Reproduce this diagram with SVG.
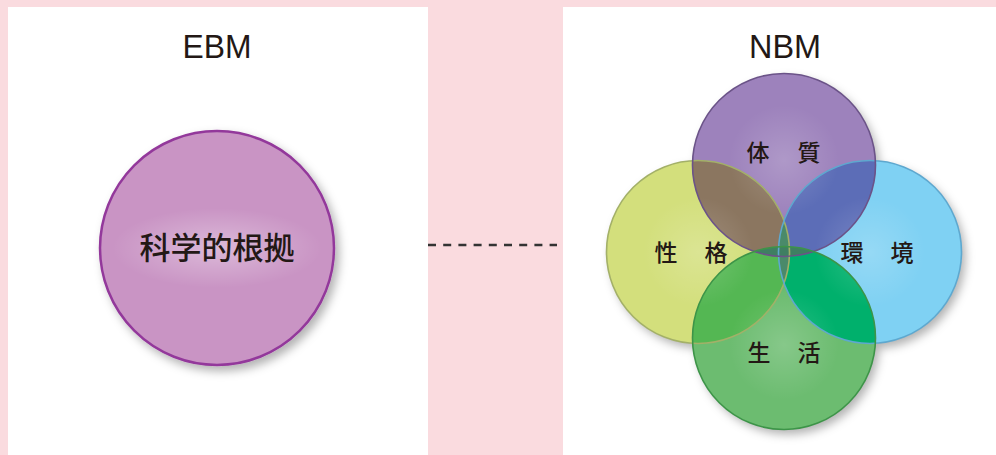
<svg xmlns="http://www.w3.org/2000/svg" width="996" height="455" viewBox="0 0 996 455">
<style>
.title{font-family:"Liberation Sans",Arial,sans-serif;font-size:34px;fill:#231815;text-anchor:middle}
.jp{font-family:"Noto Sans CJK JP","Noto Sans CJK SC",sans-serif;fill:#231815;text-anchor:middle;font-weight:500}
.lbl{font-size:23px}
.circ{stroke-width:1.6}
</style>
<defs>
<filter id="sh" x="-20%" y="-20%" width="150%" height="150%">
<feDropShadow dx="4" dy="5" stdDeviation="5" flood-color="#000" flood-opacity="0.3"/>
</filter>
<radialGradient id="glow" cx="0.5" cy="0.5" r="0.5">
<stop offset="0" stop-color="#fff" stop-opacity="0.35"/>
<stop offset="1" stop-color="#fff" stop-opacity="0"/>
</radialGradient>
<radialGradient id="glow2" cx="0.5" cy="0.5" r="0.5">
<stop offset="0" stop-color="#fff" stop-opacity="0.18"/>
<stop offset="1" stop-color="#fff" stop-opacity="0"/>
</radialGradient>
<clipPath id="cT"><circle cx="784" cy="165" r="91.5"/></clipPath>
<clipPath id="cL"><circle cx="698" cy="252" r="91.5"/></clipPath>
<clipPath id="cR"><circle cx="870" cy="252" r="91.5"/></clipPath>
<clipPath id="cB"><circle cx="784" cy="338" r="91.5"/></clipPath>
</defs>
<rect x="0" y="0" width="996" height="455" fill="#fadbdf"/>
<rect x="8" y="7" width="420" height="448" fill="#fff"/>
<rect x="563" y="7" width="433" height="448" fill="#fff"/>

<g id="connectors">
<line x1="428" y1="245" x2="557" y2="245" stroke="#333" stroke-width="2.4" stroke-dasharray="8 7.2"/>
</g>

<g id="ebm-title"><text class="title" x="217" y="58" textLength="69" lengthAdjust="spacingAndGlyphs">EBM</text></g>
<g id="node-ebm">
<circle cx="217" cy="248" r="117" fill="#c994c4" stroke="#93399b" stroke-width="2.5" filter="url(#sh)"/>
<ellipse cx="217" cy="248" rx="105" ry="40" fill="url(#glow)"/>
<text class="jp" x="217" y="259" font-size="31">科学的根拠</text>
</g>

<g id="nbm-title"><text class="title" x="785" y="58" textLength="72" lengthAdjust="spacingAndGlyphs">NBM</text></g>

<g id="nbm-circles">
<g filter="url(#sh)">
<circle cx="698" cy="252" r="91.5" fill="#d3df7c"/>
<circle cx="870" cy="252" r="91.5" fill="#7fd1f3"/>
<circle cx="784" cy="165" r="91.5" fill="#9d82bc"/>
<circle cx="784" cy="338" r="91.5" fill="#6cbc70"/>
</g>
<circle cx="784" cy="165" r="91.5" fill="#8b7660" clip-path="url(#cL)"/>
<circle cx="784" cy="165" r="91.5" fill="#5c6db7" clip-path="url(#cR)"/>
<circle cx="784" cy="338" r="91.5" fill="#54b753" clip-path="url(#cL)"/>
<circle cx="784" cy="338" r="91.5" fill="#00b06c" clip-path="url(#cR)"/>
<g clip-path="url(#cL)"><circle cx="870" cy="252" r="91.5" fill="#4a8a6a"/></g>
<g clip-path="url(#cT)"><circle cx="784" cy="338" r="91.5" fill="#3f7f62"/></g>
<circle cx="784" cy="160" r="55" fill="url(#glow2)"/>
<circle cx="698" cy="252" r="55" fill="url(#glow2)"/>
<circle cx="870" cy="252" r="55" fill="url(#glow2)"/>
<circle cx="784" cy="345" r="55" fill="url(#glow2)"/>
<circle class="circ" cx="698" cy="252" r="91.5" fill="none" stroke="#a3b068"/>
<circle class="circ" cx="870" cy="252" r="91.5" fill="none" stroke="#5ea8cf"/>
<circle class="circ" cx="784" cy="165" r="91.5" fill="none" stroke="#6b5388"/>
<circle class="circ" cx="784" cy="338" r="91.5" fill="none" stroke="#3d9448"/>
</g>

<g id="node-taishitsu">
<text class="jp lbl" x="758" y="161">体</text><text class="jp lbl" x="809" y="161">質</text>
</g>
<g id="node-seikaku">
<text class="jp lbl" x="666" y="261">性</text><text class="jp lbl" x="716" y="261">格</text>
</g>
<g id="node-kankyo">
<text class="jp lbl" x="852" y="261">環</text><text class="jp lbl" x="902" y="261">境</text>
</g>
<g id="node-seikatsu">
<text class="jp lbl" x="759" y="361">生</text><text class="jp lbl" x="809" y="361">活</text>
</g>
</svg>
